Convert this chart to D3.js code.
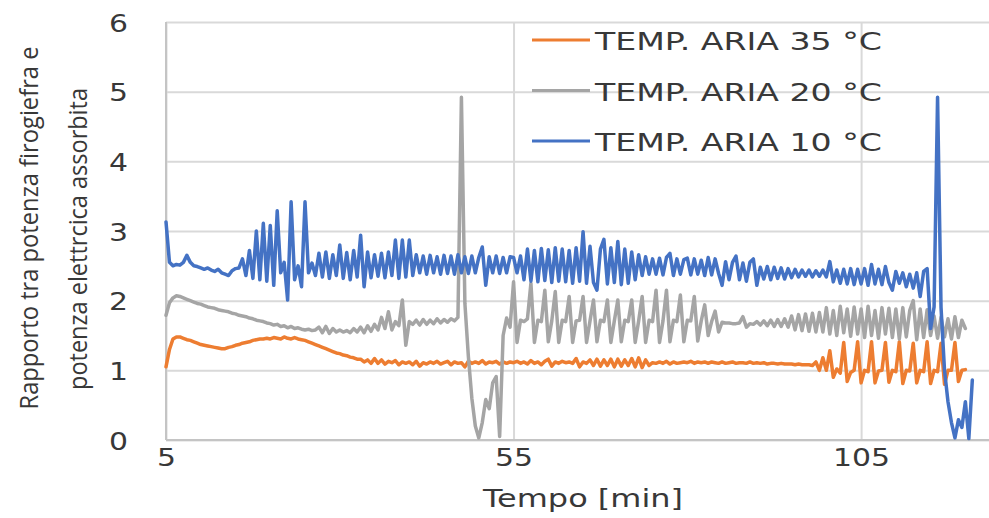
<!DOCTYPE html>
<html>
<head>
<meta charset="utf-8">
<script src="https://cdn.jsdelivr.net/npm/d3@7/dist/d3.min.js"></script>
<style>
body { margin: 0; background: #fff; }
svg text { fill: #383838; }
</style>
</head>
<body>
<svg id="chart" width="989" height="518"></svg>
<script>
// logger samples every 0.5 min, first sample at 5 min
var t_start = 5, t_step = 0.5;

var series_names = ['TEMP. ARIA 35 °C', 'TEMP. ARIA 20 °C', 'TEMP. ARIA 10 °C'];
var series_colors = ['#ed7d31', '#a5a5a5', '#4472c4'];
var x_ticks = [5, 55, 105];
var y_ticks = [0, 1, 2, 3, 4, 5, 6];
var x_title = 'Tempo [min]';
var y_title = ['Rapporto tra potenza firogiefra e', 'potenza elettrcica assorbita'];

// TEMP. ARIA 35 °C
var aria35 = [
	1.05, 1.30, 1.45, 1.48, 1.48, 1.46, 1.44, 1.43, 1.41, 1.39, // 5
	1.37, 1.36, 1.35, 1.34, 1.33, 1.32, 1.31, 1.31, 1.33, 1.34, // 10
	1.36, 1.37, 1.39, 1.40, 1.41, 1.43, 1.44, 1.45, 1.45, 1.46, // 15
	1.45, 1.47, 1.46, 1.45, 1.48, 1.46, 1.45, 1.47, 1.45, 1.44, // 20
	1.43, 1.41, 1.39, 1.37, 1.35, 1.33, 1.31, 1.29, 1.27, 1.25, // 25
	1.24, 1.22, 1.21, 1.19, 1.18, 1.16, 1.16, 1.12, 1.15, 1.10, // 30
	1.17, 1.10, 1.15, 1.09, 1.13, 1.11, 1.14, 1.08, 1.12, 1.10, // 35
	1.12, 1.08, 1.13, 1.06, 1.11, 1.09, 1.12, 1.10, 1.13, 1.09, // 40
	1.11, 1.13, 1.08, 1.12, 1.10, 1.11, 1.05, 1.13, 1.10, 1.12, // 45
	1.10, 1.14, 1.09, 1.12, 1.11, 1.13, 1.09, 1.12, 1.10, 1.12, // 50
	1.11, 1.13, 1.10, 1.12, 1.09, 1.14, 1.10, 1.12, 1.08, 1.13, // 55
	1.16, 1.06, 1.12, 1.10, 1.13, 1.11, 1.12, 1.10, 1.17, 1.05, // 60
	1.12, 1.10, 1.15, 1.07, 1.16, 1.06, 1.15, 1.07, 1.16, 1.05, // 65
	1.16, 1.06, 1.15, 1.07, 1.17, 1.05, 1.18, 1.04, 1.15, 1.07, // 70
	1.11, 1.10, 1.12, 1.10, 1.13, 1.09, 1.12, 1.10, 1.11, 1.12, // 75
	1.11, 1.13, 1.10, 1.12, 1.11, 1.12, 1.10, 1.12, 1.11, 1.10, // 80
	1.12, 1.10, 1.11, 1.12, 1.10, 1.11, 1.11, 1.10, 1.12, 1.10, // 85
	1.11, 1.10, 1.11, 1.09, 1.10, 1.10, 1.09, 1.10, 1.09, 1.09, // 90
	1.09, 1.08, 1.09, 1.08, 1.08, 1.08, 1.07, 1.12, 1.00, 1.18, // 95
	1.00, 1.28, 0.90, 1.02, 0.96, 1.40, 0.84, 0.97, 1.00, 1.41, // 100
	0.82, 1.00, 0.98, 1.41, 0.82, 0.99, 1.00, 1.40, 0.83, 1.00, // 105
	0.98, 1.41, 0.81, 1.00, 0.99, 1.39, 0.82, 1.00, 0.98, 1.41, // 110
	0.81, 1.00, 0.98, 1.39, 0.80, 1.00, 1.00, 1.40, 0.84, 1.00, // 115
	1.01
];

// TEMP. ARIA 20 °C
var aria20 = [
	1.79, 1.97, 2.04, 2.07, 2.06, 2.04, 2.02, 2.00, 1.98, 1.96, // 5
	1.95, 1.93, 1.91, 1.90, 1.89, 1.87, 1.86, 1.85, 1.84, 1.82, // 10
	1.81, 1.79, 1.78, 1.77, 1.75, 1.74, 1.72, 1.71, 1.70, 1.68, // 15
	1.67, 1.65, 1.66, 1.63, 1.64, 1.61, 1.63, 1.60, 1.61, 1.59, // 20
	1.58, 1.59, 1.57, 1.58, 1.62, 1.54, 1.63, 1.53, 1.60, 1.55, // 25
	1.58, 1.55, 1.57, 1.54, 1.60, 1.55, 1.62, 1.54, 1.64, 1.56, // 30
	1.66, 1.58, 1.76, 1.60, 1.84, 1.58, 1.70, 1.64, 2.01, 1.36, // 35
	1.70, 1.66, 1.72, 1.65, 1.73, 1.66, 1.72, 1.67, 1.74, 1.68, // 40
	1.73, 1.69, 1.74, 1.71, 1.76, 4.92, 1.96, 1.20, 0.60, 0.20, // 45
	0.03, 0.25, 0.58, 0.45, 0.82, 0.91, 0.05, 1.50, 1.75, 1.62, // 50
	2.27, 1.40, 1.72, 1.70, 1.74, 2.25, 1.40, 1.72, 1.70, 2.15, // 55
	1.41, 1.71, 2.13, 1.40, 1.72, 1.70, 2.06, 1.40, 1.71, 1.72, // 60
	2.06, 1.40, 1.71, 2.01, 1.41, 1.72, 1.70, 2.01, 1.40, 1.71, // 65
	2.01, 1.41, 1.72, 1.70, 2.01, 1.40, 1.71, 2.06, 1.40, 1.72, // 70
	1.70, 2.15, 1.40, 1.71, 2.15, 1.41, 1.72, 1.70, 2.08, 1.41, // 75
	1.72, 1.71, 2.06, 1.42, 1.71, 1.94, 1.50, 1.70, 1.85, 1.55, // 80
	1.69, 1.68, 1.68, 1.67, 1.67, 1.68, 1.77, 1.62, 1.67, 1.66, // 85
	1.70, 1.65, 1.71, 1.64, 1.72, 1.63, 1.73, 1.63, 1.74, 1.62, // 90
	1.78, 1.58, 1.80, 1.57, 1.81, 1.56, 1.82, 1.55, 1.83, 1.55, // 95
	1.90, 1.52, 1.86, 1.50, 1.92, 1.54, 1.88, 1.49, 1.91, 1.52, // 100
	1.88, 1.47, 1.92, 1.50, 1.86, 1.46, 1.90, 1.52, 1.89, 1.47, // 105
	1.88, 1.45, 1.90, 1.48, 1.86, 2.00, 1.44, 1.88, 1.47, 1.87, // 110
	1.50, 1.78, 1.46, 1.76, 1.48, 1.74, 1.45, 1.77, 1.47, 1.72, // 115
	1.60
];

// TEMP. ARIA 10 °C
var aria10 = [
	3.13, 2.55, 2.50, 2.52, 2.51, 2.55, 2.65, 2.55, 2.50, 2.49, // 5
	2.47, 2.45, 2.47, 2.44, 2.42, 2.45, 2.40, 2.38, 2.36, 2.43, // 10
	2.46, 2.47, 2.60, 2.36, 2.72, 2.32, 3.00, 2.30, 3.11, 2.28, // 15
	3.08, 2.22, 3.29, 2.40, 2.55, 2.01, 3.42, 2.30, 2.50, 2.20, // 20
	3.42, 2.40, 2.54, 2.36, 2.68, 2.34, 2.70, 2.32, 2.66, 2.36, // 25
	2.80, 2.32, 2.69, 2.30, 2.72, 2.34, 2.94, 2.20, 2.70, 2.33, // 30
	2.66, 2.35, 2.68, 2.33, 2.70, 2.36, 2.87, 2.32, 2.87, 2.34, // 35
	2.87, 2.36, 2.66, 2.40, 2.64, 2.38, 2.65, 2.40, 2.63, 2.38, // 40
	2.65, 2.39, 2.64, 2.38, 2.66, 2.40, 2.63, 2.39, 2.64, 2.40, // 45
	2.62, 2.77, 2.22, 2.63, 2.40, 2.64, 2.39, 2.62, 2.40, 2.63, // 50
	2.62, 2.40, 2.64, 2.30, 2.74, 2.28, 2.72, 2.27, 2.75, 2.29, // 55
	2.73, 2.26, 2.76, 2.28, 2.74, 2.27, 2.72, 2.25, 2.76, 2.28, // 60
	2.99, 2.25, 2.78, 2.26, 2.15, 2.74, 2.88, 2.24, 2.76, 2.26, // 65
	2.85, 2.23, 2.74, 2.25, 2.70, 2.30, 2.66, 2.36, 2.63, 2.38, // 70
	2.60, 2.38, 2.61, 2.37, 2.62, 2.68, 2.36, 2.60, 2.38, 2.59, // 75
	2.61, 2.37, 2.60, 2.38, 2.58, 2.36, 2.62, 2.37, 2.60, 2.39, // 80
	2.22, 2.56, 2.30, 2.55, 2.64, 2.30, 2.54, 2.28, 2.55, 2.60, // 85
	2.22, 2.48, 2.31, 2.49, 2.30, 2.48, 2.32, 2.47, 2.31, 2.46, // 90
	2.33, 2.45, 2.34, 2.44, 2.35, 2.44, 2.34, 2.43, 2.35, 2.44, // 95
	2.34, 2.56, 2.27, 2.44, 2.25, 2.45, 2.24, 2.46, 2.23, 2.45, // 100
	2.24, 2.46, 2.22, 2.52, 2.24, 2.45, 2.23, 2.49, 2.26, 2.15, // 105
	2.42, 2.25, 2.40, 2.20, 2.38, 2.18, 2.40, 2.06, 2.42, 2.46, // 110
	1.60, 1.91, 4.92, 1.90, 1.00, 0.55, 0.25, 0.03, 0.29, 0.18, // 115
	0.55, 0.02, 0.86
];

var series = [aria35, aria20, aria10];

var conf = {
	width: 989, height: 518,
	left: 166, right: 989, top: 22, bottom: 440
};

var svg = d3.select('#chart');

var x = d3.scaleLinear().domain([5, 123.4]).range([conf.left, conf.right]);
var y = d3.scaleLinear().domain([0, 6]).range([conf.bottom, conf.top]);

// horizontal grid + y labels
var y_axis = d3.axisLeft(y).tickValues(y_ticks).tickFormat(d3.format('d'))
	.tickSize(-(conf.right - conf.left)).tickPadding(38);
var gy = svg.append('g').attr('class', 'y axis')
	.attr('transform', 'translate(' + conf.left + ',0)')
	.call(y_axis);
gy.select('.domain').remove();
gy.selectAll('line').attr('stroke', '#d9d9d9').attr('stroke-width', 2);
gy.selectAll('text')
	.attr('font-family', 'DejaVu Sans, sans-serif').attr('font-size', 25)
	.attr('fill', '#383838').attr('dy', '0.36em')
	.attr('textLength', function (d) {return String(d).length*19;})
	.attr('lengthAdjust', 'spacingAndGlyphs');

// vertical grid + x labels
var x_axis = d3.axisBottom(x).tickValues(x_ticks).tickFormat(d3.format('d'))
	.tickSize(-(conf.bottom - conf.top)).tickPadding(26);
var gx = svg.append('g').attr('class', 'x axis')
	.attr('transform', 'translate(0,' + conf.bottom + ')')
	.call(x_axis);
gx.select('.domain').remove();
gx.selectAll('line').attr('stroke', '#d9d9d9').attr('stroke-width', 2);
gx.selectAll('text')
	.attr('font-family', 'DejaVu Sans, sans-serif').attr('font-size', 24)
	.attr('fill', '#383838').attr('dy', 0)
	.attr('textLength', function (d) {return String(d).length*19;})
	.attr('lengthAdjust', 'spacingAndGlyphs');

// axis lines
svg.append('line')
	.attr('x1', conf.left).attr('y1', conf.top)
	.attr('x2', conf.left).attr('y2', conf.bottom)
	.attr('stroke', '#c4c4c4').attr('stroke-width', 2);
svg.append('line')
	.attr('x1', conf.left).attr('y1', conf.bottom)
	.attr('x2', conf.right).attr('y2', conf.bottom)
	.attr('stroke', '#c4c4c4').attr('stroke-width', 2);

// the series
var line = d3.line()
	.x(function (d, i) {return x(t_start + i*t_step);})
	.y(function (d) {return y(d);});

svg.append('g').attr('class', 'series')
	.selectAll('path').data(series).enter()
	.append('path')
	.attr('d', line)
	.attr('fill', 'none')
	.attr('stroke', function (d, i) {return series_colors[i];})
	.attr('stroke-width', 3.5)
	.attr('stroke-linejoin', 'round')
	.attr('stroke-linecap', 'round');

// legend
var legend = svg.append('g').attr('class', 'legend');
var leg = legend.selectAll('g').data(series_names).enter()
	.append('g')
	.attr('transform', function (d, i) {return 'translate(532,' + (40 + i*50.5) + ')';});
leg.append('line')
	.attr('x1', 0).attr('x2', 58).attr('y1', 0).attr('y2', 0)
	.attr('stroke', function (d, i) {return series_colors[i];})
	.attr('stroke-width', 3);
leg.append('text')
	.text(function (d) {return d;})
	.attr('x', 63).attr('y', 10)
	.attr('font-family', 'DejaVu Sans, sans-serif').attr('font-size', 25)
	.attr('textLength', 287).attr('lengthAdjust', 'spacingAndGlyphs');

// axis titles
svg.append('text')
	.text(x_title)
	.attr('x', 583).attr('y', 507)
	.attr('text-anchor', 'middle')
	.attr('font-family', 'DejaVu Sans, sans-serif').attr('font-size', 24)
	.attr('textLength', 200).attr('lengthAdjust', 'spacingAndGlyphs');

var y_title_pos = [[38, 228, 363], [87, 239, 302]];
svg.selectAll('text.ytitle').data(y_title).enter()
	.append('text').attr('class', 'ytitle')
	.text(function (d) {return d;})
	.attr('transform', function (d, i) {
		return 'translate(' + y_title_pos[i][0] + ',' + y_title_pos[i][1] + ') rotate(-90)';
	})
	.attr('text-anchor', 'middle')
	.attr('font-family', 'Liberation Sans Narrow, Open Sans, sans-serif').attr('font-size', 26)
	.attr('textLength', function (d, i) {return y_title_pos[i][2];})
	.attr('lengthAdjust', 'spacingAndGlyphs');
</script>
</body>
</html>
